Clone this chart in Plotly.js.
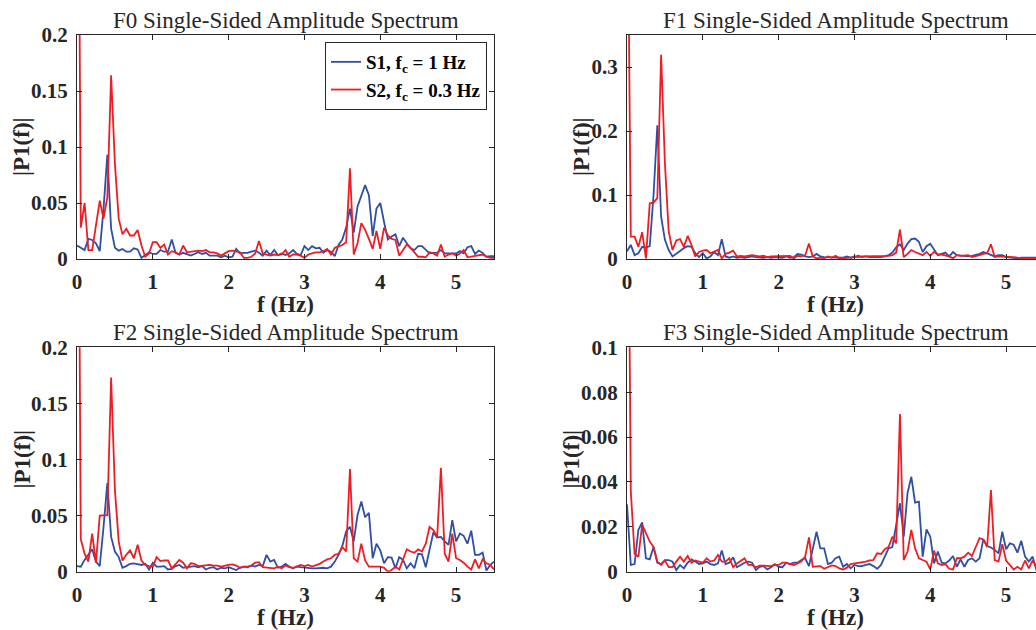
<!DOCTYPE html>
<html>
<head>
<meta charset="utf-8">
<script src="https://cdn.plot.ly/plotly-3.0.1.min.js"></script>
<style>
  html, body { margin: 0; padding: 0; overflow: hidden; background: #ffffff; }
  #chart { width: 1060px; height: 630px; }
</style>
</head>
<body>
<div id="chart"></div>
<script>
// ---------------- DATA ----------------
const freqHz = [
  0.00, 0.05, 0.10, 0.15, 0.20, 0.25, 0.30, 0.35, 0.40, 0.45,
  0.50, 0.55, 0.60, 0.65, 0.70, 0.75, 0.80, 0.85, 0.90, 0.95,
  1.00, 1.05, 1.10, 1.15, 1.20, 1.25, 1.30, 1.35, 1.40, 1.45,
  1.50, 1.55, 1.60, 1.65, 1.70, 1.75, 1.80, 1.85, 1.90, 1.95,
  2.00, 2.05, 2.10, 2.15, 2.20, 2.25, 2.30, 2.35, 2.40, 2.45,
  2.50, 2.55, 2.60, 2.65, 2.70, 2.75, 2.80, 2.85, 2.90, 2.95,
  3.00, 3.05, 3.10, 3.15, 3.20, 3.25, 3.30, 3.35, 3.40, 3.45,
  3.50, 3.55, 3.60, 3.65, 3.70, 3.75, 3.80, 3.85, 3.90, 3.95,
  4.00, 4.05, 4.10, 4.15, 4.20, 4.25, 4.30, 4.35, 4.40, 4.45,
  4.50, 4.55, 4.60, 4.65, 4.70, 4.75, 4.80, 4.85, 4.90, 4.95,
  5.00, 5.05, 5.10, 5.15, 5.20, 5.25, 5.30, 5.35, 5.40, 5.45,
  5.50
];

const seriesNames = ['S1, f<sub>c</sub> = 1 Hz', 'S2, f<sub>c</sub> = 0.3 Hz'];
const panelTitles = ['F0 Single-Sided Amplitude Spectrum', 'F1 Single-Sided Amplitude Spectrum',
                     'F2 Single-Sided Amplitude Spectrum', 'F3 Single-Sided Amplitude Spectrum'];
const xTitle = 'f (Hz)';
const yTitle = '|P1(f)|';

const F0_S1 = [
  0.012, 0.010, 0.008, 0.018, 0.017, 0.014, 0.007, 0.045, 0.093, 0.027,
  0.010, 0.0075, 0.009, 0.0065, 0.0065, 0.0095, 0.0085, 0.001, 0.0035, 0.006,
  0.0045, 0.0045, 0.008, 0.0065, 0.0065, 0.0175, 0.0055, 0.004, 0.0055, 0.004,
  0.003, 0.0045, 0.006, 0.0045, 0.0055, 0.003, 0.003, 0.003, 0.0015, 0.003,
  0.0015, 0.002, 0.009, 0.005, 0.0055, 0.0055, 0.0065, 0.0075, 0.0055, 0.003,
  0.0075, 0.0035, 0.008, 0.0035, 0.005, 0.0035, 0.005, 0.008, 0.0045, 0.0035,
  0.0115, 0.008, 0.0115, 0.0095, 0.010, 0.0055, 0.008, 0.0065, 0.0025, 0.0125,
  0.0175, 0.028, 0.045, 0.0235, 0.047, 0.057, 0.066, 0.057, 0.0205, 0.045,
  0.050, 0.033, 0.0175, 0.020, 0.022, 0.0115, 0.019, 0.014, 0.0095, 0.008,
  0.0115, 0.0115, 0.008, 0.005, 0.0055, 0.0055, 0.008, 0.005, 0.005, 0.005,
  0.005, 0.007, 0.005, 0.0105, 0.0115, 0.0045, 0.0075, 0.0055, 0.002, 0.0025,
  0.0025
];
const F0_S2 = [
  0.6, 0.028, 0.050, 0.008, 0.008, 0.030, 0.052, 0.036, 0.055, 0.164,
  0.085, 0.036, 0.022, 0.027, 0.021, 0.021, 0.026, 0.012, 0.002, 0.005,
  0.015, 0.015, 0.010, 0.013, 0.004, 0.007, 0.006, 0.004, 0.012, 0.006,
  0.0065, 0.007, 0.0075, 0.007, 0.008, 0.006, 0.006, 0.005, 0.003, 0.005,
  0.007, 0.0075, 0.007, 0.006, 0.001, 0.001, 0.002, 0.005, 0.016, 0.005,
  0.004, 0.003, 0.004, 0.0035, 0.004, 0.008, 0.002, 0.004, 0.004, 0.003,
  0.001, 0.004, 0.005, 0.006, 0.006, 0.007, 0.009, 0.004, 0.010, 0.011,
  0.0125, 0.015, 0.081, 0.004, 0.014, 0.032, 0.026, 0.018, 0.009, 0.025,
  0.009, 0.028, 0.021, 0.018, 0.017, 0.003, 0.008, 0.013, 0.010, 0.006,
  0.002, 0.002, 0.0015, 0.006, 0.005, 0.003, 0.013, 0.002, 0.004, 0.005,
  0.003, 0.005, 0.008, 0.0015, 0.002, 0.003, 0.003, 0.004, 0.002, 0.001,
  0.001
];
const F1_S1 = [
  0.012, 0.022, 0.006, 0.009, 0.019, 0.018, 0.020, 0.100, 0.209, 0.066,
  0.030, 0.014, 0.004, 0.009, 0.0125, 0.017, 0.020, 0.019, 0.009, 0.003,
  0.009, 0.001, 0.004, 0.011, 0.006, 0.031, 0.004, 0.002, 0.004, 0.002,
  0.003, 0.002, 0.003, 0.004, 0.003, 0.002, 0.002, 0.003, 0.002, 0.003,
  0.003, 0.002, 0.004, 0.002, 0.003, 0.008, 0.007, 0.004, 0.003, 0.004,
  0.008, 0.004, 0.003, 0.003, 0.002, 0.003, 0.002, 0.002, 0.004, 0.002,
  0.003, 0.005, 0.003, 0.004, 0.003, 0.003, 0.002, 0.003, 0.004, 0.006,
  0.010, 0.018, 0.023, 0.014, 0.024, 0.031, 0.032, 0.027, 0.011, 0.020,
  0.024, 0.014, 0.006, 0.008, 0.010, 0.004, 0.011, 0.006, 0.005, 0.005,
  0.004, 0.005, 0.006, 0.008, 0.011, 0.009, 0.006, 0.004, 0.006, 0.006,
  0.003, 0.002, 0.001, 0.001, 0.002, 0.002, 0.002, 0.002, 0.002, 0.002,
  0.002
];
const F1_S2 = [
  0.7, 0.035, 0.035, 0.019, 0.042, 0.001, 0.087, 0.088, 0.095, 0.319,
  0.150, 0.043, 0.014, 0.029, 0.031, 0.019, 0.036, 0.022, 0.004, 0.011,
  0.013, 0.014, 0.009, 0.011, 0.014, 0.001, 0.008, 0.010, 0.013, 0.004,
  0.005, 0.004, 0.005, 0.006, 0.005, 0.004, 0.005, 0.003, 0.004, 0.004,
  0.005, 0.005, 0.004, 0.005, 0.001, 0.005, 0.004, 0.006, 0.024, 0.004,
  0.001, 0.002, 0.001, 0.004, 0.002, 0.005, 0.001, 0.001, 0.002, 0.002,
  0.004, 0.003, 0.004, 0.004, 0.004, 0.004, 0.005, 0.004, 0.005, 0.005,
  0.006, 0.010, 0.046, 0.003, 0.008, 0.014, 0.011, 0.009, 0.006, 0.011,
  0.005, 0.011, 0.007, 0.007, 0.006, 0.004, 0.001, 0.006, 0.005, 0.005,
  0.006, 0.003, 0.004, 0.006, 0.008, 0.009, 0.023, 0.003, 0.004, 0.004,
  0.004, 0.003, 0.003, 0.002, 0.001, 0.001, 0.001, 0.001, 0.001, 0.001,
  0.001
];
const F2_S1 = [
  0.005, 0.0045, 0.0105, 0.015, 0.020, 0.009, 0.005, 0.040, 0.079, 0.031,
  0.018, 0.013, 0.0035, 0.005, 0.007, 0.0075, 0.007, 0.006, 0.007, 0.002,
  0.008, 0.0045, 0.0045, 0.005, 0.002, 0.0025, 0.005, 0.006, 0.0035, 0.004,
  0.004, 0.005, 0.004, 0.005, 0.002, 0.0035, 0.004, 0.002, 0.0035, 0.003,
  0.004, 0.003, 0.0015, 0.0035, 0.0045, 0.004, 0.0055, 0.0045, 0.006, 0.005,
  0.015, 0.009, 0.0105, 0.0035, 0.0045, 0.007, 0.0045, 0.003, 0.0045, 0.004,
  0.0035, 0.0035, 0.003, 0.003, 0.0035, 0.0035, 0.003, 0.0045, 0.009, 0.015,
  0.023, 0.036, 0.040, 0.027, 0.0505, 0.0625, 0.0485, 0.0525, 0.012, 0.025,
  0.019, 0.0075, 0.013, 0.0125, 0.003, 0.013, 0.0105, 0.003, 0.0075, 0.003,
  0.016, 0.0155, 0.004, 0.019, 0.035, 0.0305, 0.031, 0.027, 0.024, 0.046,
  0.027, 0.034, 0.032, 0.025, 0.0365, 0.015, 0.015, 0.017, 0.001, 0.006,
  0.009
];
const F2_S2 = [
  0.6, 0.029, 0.016, 0.009, 0.034, 0.008, 0.050, 0.050, 0.0505, 0.173,
  0.073, 0.027, 0.010, 0.015, 0.019, 0.012, 0.024, 0.010, 0.006, 0.005,
  0.0045, 0.013, 0.0095, 0.010, 0.010, 0.003, 0.0065, 0.0105, 0.008, 0.003,
  0.0075, 0.007, 0.005, 0.0055, 0.0055, 0.006, 0.0055, 0.0055, 0.0045, 0.0055,
  0.006, 0.0065, 0.0055, 0.0035, 0.0045, 0.0045, 0.0055, 0.008, 0.0085, 0.004,
  0.0035, 0.0035, 0.003, 0.0045, 0.003, 0.0055, 0.004, 0.0035, 0.005, 0.006,
  0.005, 0.006, 0.0045, 0.0055, 0.007, 0.009, 0.011, 0.012, 0.015, 0.016,
  0.022, 0.018, 0.0915, 0.012, 0.009, 0.025, 0.010, 0.0045, 0.0045, 0.005,
  0.0045, 0.0035, 0.0, 0.0015, 0.0045, 0.002, 0.0105, 0.020, 0.018, 0.017,
  0.020, 0.018, 0.025, 0.040, 0.037, 0.031, 0.0925, 0.016, 0.009, 0.034,
  0.012, 0.0105, 0.008, 0.0045, 0.002, 0.011, 0.003, 0.011, 0.0075, 0.006,
  0.002
];
const F3_S1 = [
  0.030, 0.003, 0.0034, 0.0186, 0.022, 0.006, 0.0055, 0.011, 0.004, 0.0034,
  0.0052, 0.0052, 0.0045, 0.0007, 0.003, 0.0015, 0.004, 0.0055, 0.0045, 0.0034,
  0.0037, 0.0045, 0.0034, 0.003, 0.0037, 0.0094, 0.0034, 0.004, 0.0064, 0.002,
  0.003, 0.004, 0.0045, 0.004, 0.0007, 0.0022, 0.0025, 0.001, 0.002, 0.0034,
  0.0022, 0.002, 0.004, 0.0034, 0.004, 0.004, 0.0052, 0.006, 0.0025, 0.0104,
  0.0178, 0.0104, 0.0104, 0.0034, 0.004, 0.006, 0.0067, 0.0022, 0.0034, 0.0015,
  0.003, 0.0025, 0.0025, 0.003, 0.0034, 0.0025, 0.0013, 0.003, 0.007, 0.0104,
  0.011, 0.0208, 0.0305, 0.0156, 0.035, 0.0423, 0.0308, 0.0312, 0.0067, 0.0189,
  0.0156, 0.0037, 0.009, 0.004, 0.0037, 0.005, 0.007, 0.0022, 0.0055, 0.0022,
  0.0052, 0.006, 0.0045, 0.006, 0.0144, 0.0114, 0.0108, 0.0097, 0.0082, 0.0178,
  0.010, 0.0126, 0.012, 0.0085, 0.0138, 0.0067, 0.0045, 0.0067, 0.0007, 0.004,
  0.005
];
const F3_S2 = [
  0.25, 0.036, 0.008, 0.0067, 0.021, 0.017, 0.0134, 0.011, 0.0045, 0.003,
  0.005, 0.002, 0.002, 0.0045, 0.0067, 0.0045, 0.007, 0.004, 0.005, 0.0045,
  0.004, 0.006, 0.0045, 0.005, 0.0075, 0.0045, 0.0045, 0.006, 0.002, 0.0037,
  0.005, 0.006, 0.003, 0.003, 0.002, 0.0027, 0.0027, 0.0025, 0.0025, 0.003,
  0.003, 0.004, 0.004, 0.0034, 0.003, 0.0037, 0.0046, 0.0067, 0.0153, 0.0022,
  0.0022, 0.0025, 0.0013, 0.0022, 0.0028, 0.0025, 0.0015, 0.001, 0.0018, 0.0034,
  0.0037, 0.0037, 0.004, 0.0045, 0.005, 0.0052, 0.0082, 0.0079, 0.010, 0.011,
  0.0156, 0.0126, 0.0703, 0.0052, 0.009, 0.0186, 0.0104, 0.006, 0.0052, 0.0045,
  0.001, 0.0094, 0.0037, 0.003, 0.0034, 0.0013, 0.001, 0.006, 0.006, 0.0067,
  0.0085, 0.007, 0.011, 0.015, 0.0144, 0.011, 0.0364, 0.0052, 0.0045, 0.0123,
  0.005, 0.003, 0.001, 0.0022, 0.001, 0.005, 0.0015, 0.005, 0.0022, 0.003,
  0.002
];

const yRanges = [[0, 0.2], [0, 0.35], [0, 0.2], [0, 0.1]];
const yDticks = [0.05, 0.1, 0.05, 0.02];

// ---------------- LAYOUT ----------------
const W = 1060, H = 630;
const px = x => x / W;
const py = y => (H - y) / H;

const BLUE = '#2f4fa6';
const RED = '#ee1d23';
const INK = '#262626';
const SERIF = 'Liberation Serif';

// plot boxes in pixels [left, right, top, bottom]
const boxes = [
  [77, 494, 35, 259],
  [627, 1044, 35, 259],
  [77, 494, 347.3, 571.7],
  [627, 1044, 347.3, 571.7]
];
const yTitleX = [22, 582, 22, 571];

const S1 = [F0_S1, F1_S1, F2_S1, F3_S1];
const S2 = [F0_S2, F1_S2, F2_S2, F3_S2];

const traces = [];
const layout = {
  width: W, height: H,
  margin: {l: 0, r: 0, t: 0, b: 0},
  paper_bgcolor: '#ffffff', plot_bgcolor: '#ffffff',
  font: {family: SERIF, color: INK},
  showlegend: true,
  legend: {
    x: px(487), y: py(42), xanchor: 'right', yanchor: 'top',
    bgcolor: '#ffffff', bordercolor: INK, borderwidth: 1,
    font: {family: SERIF, size: 19, color: '#000000', weight: 'bold'},
    tracegroupgap: 0
  },
  annotations: []
};

for (let i = 0; i < 4; i++) {
  const n = i === 0 ? '' : String(i + 1);
  const [l, r, t, b] = boxes[i];
  traces.push({
    x: freqHz, y: S1[i], type: 'scatter', mode: 'lines',
    name: seriesNames[0], legendgroup: 'g1', showlegend: i === 0,
    line: {color: BLUE, width: 1.8},
    xaxis: 'x' + n, yaxis: 'y' + n
  });
  traces.push({
    x: freqHz, y: S2[i], type: 'scatter', mode: 'lines',
    name: seriesNames[1], legendgroup: 'g2', showlegend: i === 0,
    line: {color: RED, width: 1.8},
    xaxis: 'x' + n, yaxis: 'y' + n
  });
  const common = {
    ticks: 'inside', ticklen: 5, tickwidth: 1, tickcolor: INK,
    showline: true, linecolor: INK, linewidth: 1, mirror: 'ticks',
    showgrid: false, zeroline: false, fixedrange: true,
    tickfont: {family: SERIF, size: 21, color: INK, weight: 'bold'}
  };
  layout['xaxis' + n] = Object.assign({}, common, {
    domain: [px(l), px(r)], anchor: 'y' + n,
    range: [0, 5.5], tick0: 0, dtick: 1, ticklabelstandoff: 4
  });
  layout['yaxis' + n] = Object.assign({}, common, {
    domain: [py(b), py(t)], anchor: 'x' + n,
    range: yRanges[i], tick0: 0, dtick: yDticks[i], ticklabelstandoff: 4
  });
  // panel title
  layout.annotations.push({
    text: panelTitles[i], xref: 'paper', yref: 'paper',
    x: px((l + r) / 2), y: py(t - 15), xanchor: 'center', yanchor: 'middle',
    showarrow: false, font: {family: SERIF, size: 23, color: INK}
  });
  // x axis title
  layout.annotations.push({
    text: xTitle, xref: 'paper', yref: 'paper',
    x: px((l + r) / 2), y: py(b + 46), xanchor: 'center', yanchor: 'middle',
    showarrow: false, font: {family: SERIF, size: 23, color: INK, weight: 'bold'}
  });
  // y axis title
  layout.annotations.push({
    text: yTitle, xref: 'paper', yref: 'paper', textangle: -90,
    x: px(yTitleX[i]), y: py((t + b) / 2), xanchor: 'center', yanchor: 'middle',
    showarrow: false, font: {family: SERIF, size: 23, color: INK, weight: 'bold'}
  });
}

Plotly.newPlot('chart', traces, layout, {displayModeBar: false, staticPlot: true});
</script>
</body>
</html>
